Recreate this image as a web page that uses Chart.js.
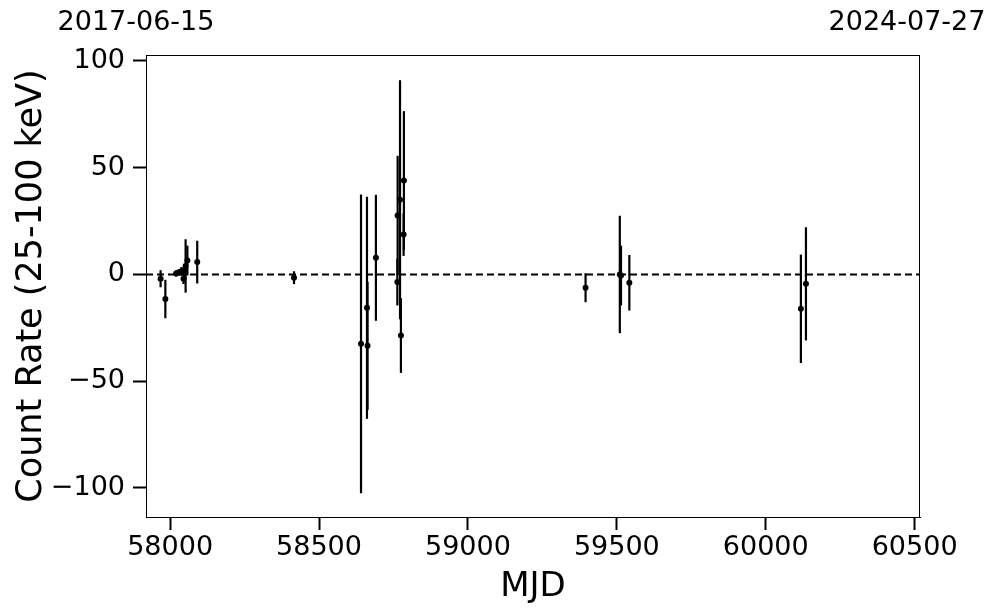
<!DOCTYPE html>
<html>
<head>
<meta charset="utf-8">
<script src="https://cdn.jsdelivr.net/npm/chart.js@4.4.1/dist/chart.umd.min.js"></script>
<style>
    html, body { margin: 0; padding: 0; background: #fff; }
</style>
</head>
<body>
<canvas id="lcChart" width="997" height="613"></canvas>
<script>
// light curve values
const mjd = [57968, 57984, 58020, 58030, 58038, 58045, 58048, 58052, 58058, 58091,
    58416,
    58641, 58661, 58663, 58691,
    58763, 58764, 58772, 58775, 58784, 58785,
    59395, 59510, 59514, 59542,
    60118, 60135];
const rate = [-2.0, -11.5, 0.5, 1.0, 1.5, -2.0, 2.0, 4.0, 6.5, 5.8,
    -1.5,
    -32.5, -15.6, -33.4, 7.8,
    -3.5, 27.6, 35.0, -28.6, 18.7, 44.0,
    -6.2, 0.0, -0.5, -3.9,
    -16.1, -4.4];
const rateErr = [4, 9, 1.5, 1.5, 2, 2.5, 2.5, 12.5, 7, 10,
    3,
    70, 52, 30, 29.5,
    11, 28, 56, 17.5, 10, 32.5,
    6.8, 27.5, 14, 13,
    25.4, 26.5];

const xTicks = [58000, 58500, 59000, 59500, 60000, 60500];
const yTicks = [-100, -50, 0, 50, 100];
const dateLabels = ['2017-06-15', '2024-07-27'];

const xMin = 57919, xMax = 60518;
const yMin = -113.6, yMax = 102.8;

Chart.defaults.font.family = '"DejaVu Sans", sans-serif';
Chart.defaults.color = '#000';

let points = mjd.map((m, i) => ({ x: m, y: rate[i] }));

// vertical error bars, under the markers
const errorBars = {
    id: 'errorBars',
    beforeDatasetsDraw(chart) {
        let ctx = chart.ctx;
        let xs = chart.scales.x, ys = chart.scales.y;
        ctx.save();
        ctx.strokeStyle = '#000';
        ctx.lineWidth = 2.2;
        mjd.forEach((m, i) => {
            let px = xs.getPixelForValue(m);
            ctx.beginPath();
            ctx.moveTo(px, ys.getPixelForValue(rate[i] - rateErr[i]));
            ctx.lineTo(px, ys.getPixelForValue(rate[i] + rateErr[i]));
            ctx.stroke();
        });
        ctx.restore();
    },
    afterDraw(chart) {
        let ctx = chart.ctx;
        let a = chart.chartArea;
        ctx.save();
        ctx.strokeStyle = '#000';
        ctx.lineWidth = 1;
        ctx.strokeRect(a.left + 0.5, a.top + 0.5, a.right - a.left - 1, a.bottom - a.top);
        ctx.font = '27px "DejaVu Sans"';
        ctx.fillStyle = '#000';
        ctx.textBaseline = 'middle';
        ctx.textAlign = 'center';
        ctx.fillText(dateLabels[0], a.left - 10, 23);
        ctx.fillText(dateLabels[1], a.right - 13, 23);
        ctx.restore();
    }
};

let ctx = document.getElementById('lcChart').getContext('2d');
new Chart(ctx, {
    type: 'scatter',
    data: {
        datasets: [{
            data: points,
            backgroundColor: '#000',
            borderColor: '#000',
            pointRadius: 3,
            pointBorderWidth: 0,
            order: 0
        }, {
            type: 'line',
            data: [{ x: xMin, y: 0 }, { x: xMax, y: 0 }],
            borderColor: '#000',
            borderWidth: 2,
            borderDash: [7, 4],
            pointRadius: 0,
            order: 1
        }]
    },
    options: {
        responsive: false,
        animation: false,
        devicePixelRatio: 1,
        layout: { padding: { top: 55, right: 77, left: 0, bottom: 0 } },
        plugins: { legend: { display: false }, tooltip: { enabled: false } },
        scales: {
            x: {
                type: 'linear',
                min: xMin,
                max: xMax,
                afterBuildTicks: s => { s.ticks = xTicks.map(v => ({ value: v })); },
                afterFit: s => { s.height = 96; },
                grid: { drawOnChartArea: false, tickLength: 13, tickWidth: 2, tickColor: '#000' },
                border: { color: '#000', width: 1 },
                ticks: { font: { size: 27 }, padding: 2, maxRotation: 0, callback: v => String(v) },
                title: { display: true, text: 'MJD', font: { size: 34 }, padding: { top: 0, bottom: 5 } }
            },
            y: {
                min: yMin,
                max: yMax,
                afterBuildTicks: s => { s.ticks = yTicks.map(v => ({ value: v })); },
                afterFit: s => { s.width = 146; },
                grid: { drawOnChartArea: false, tickLength: 13, tickWidth: 2, tickColor: '#000' },
                border: { color: '#000', width: 1 },
                ticks: { font: { size: 27 }, padding: 8, callback: v => (v < 0 ? '\u2212' + Math.abs(v) : String(v)) },
                title: { display: true, text: 'Count Rate (25-100 keV)', font: { size: 35 }, padding: { top: 11, bottom: 0 } }
            }
        }
    },
    plugins: [errorBars]
});
</script>
</body>
</html>
